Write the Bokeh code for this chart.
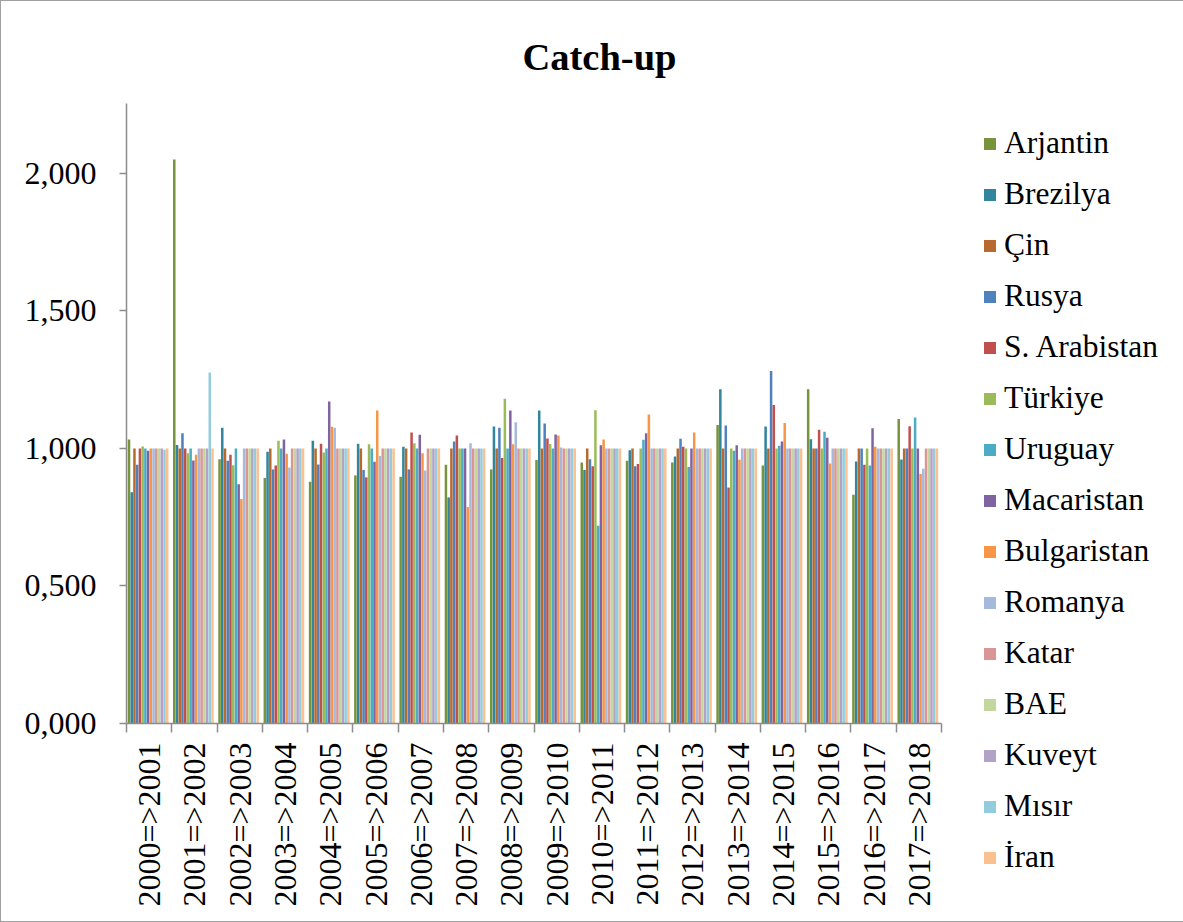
import numpy as np
from bokeh.plotting import figure
from bokeh.models import ColumnDataSource, FixedTicker, Legend, LegendItem, Range1d
from bokeh.transform import dodge
from bokeh.embed import file_html
from bokeh.resources import INLINE

periods = ["2000=>2001", "2001=>2002", "2002=>2003", "2003=>2004", "2004=>2005",
           "2005=>2006", "2006=>2007", "2007=>2008", "2008=>2009", "2009=>2010",
           "2010=>2011", "2011=>2012", "2012=>2013", "2013=>2014", "2014=>2015",
           "2015=>2016", "2016=>2017", "2017=>2018"]

countries = ["Arjantin", "Brezilya", "Çin", "Rusya", "S. Arabistan", "Türkiye",
             "Uruguay", "Macaristan", "Bulgaristan", "Romanya", "Katar", "BAE",
             "Kuveyt", "Mısır", "İran"]

arjantin = [1.033, 2.051, 0.961, 0.893, 0.879, 0.902, 0.897, 0.941, 0.924, 0.958, 0.949, 0.955, 0.949, 1.085, 0.938, 1.215, 0.832, 1.107]
brezilya = [0.841, 1.013, 1.075, 0.988, 1.028, 1.017, 1.006, 0.822, 1.080, 1.138, 0.922, 0.994, 0.971, 1.215, 1.080, 1.034, 0.953, 0.960]
cin = [1.000, 1.000, 1.000, 1.000, 1.000, 1.000, 1.000, 1.000, 1.000, 1.000, 1.000, 1.000, 1.000, 1.000, 1.000, 1.000, 1.000, 1.000]
rusya = [0.941, 1.055, 0.955, 0.924, 0.942, 0.922, 0.924, 1.025, 1.075, 1.091, 0.961, 0.935, 1.035, 1.084, 1.282, 1.000, 1.000, 1.000]
s_arabistan = [1.000, 1.000, 0.977, 0.938, 1.017, 0.895, 1.058, 1.047, 0.965, 1.036, 0.935, 0.944, 1.006, 0.858, 1.158, 1.068, 0.941, 1.081]
turkiye = [1.007, 0.983, 0.939, 1.028, 0.985, 1.015, 1.019, 1.000, 1.181, 1.016, 1.139, 1.000, 1.000, 1.000, 1.000, 1.000, 1.000, 1.000]
uruguay = [1.000, 1.000, 1.000, 1.000, 1.000, 1.000, 1.000, 1.000, 1.000, 1.000, 0.719, 1.032, 0.933, 0.992, 1.010, 1.061, 0.938, 1.113]
macaristan = [0.992, 0.956, 0.870, 1.033, 1.171, 0.952, 1.050, 1.000, 1.138, 1.051, 1.012, 1.055, 1.000, 1.012, 1.025, 1.039, 1.074, 1.000]
bulgaristan = [1.000, 0.977, 0.816, 0.981, 1.079, 1.138, 0.983, 0.787, 1.015, 1.047, 1.033, 1.124, 1.058, 0.959, 1.093, 0.945, 1.006, 0.907]
romanya = [1.000, 1.000, 1.000, 0.931, 1.075, 0.973, 0.920, 1.019, 1.095, 1.004, 1.000, 1.000, 1.000, 1.000, 1.000, 1.000, 1.000, 0.926]
katar = [1.000, 1.000, 1.000, 1.000, 1.000, 1.000, 1.000, 1.000, 1.000, 1.000, 1.000, 1.000, 1.000, 1.000, 1.000, 1.000, 1.000, 1.000]
bae = [1.000, 1.000, 1.000, 1.000, 1.000, 1.000, 1.000, 1.000, 1.000, 1.000, 1.000, 1.000, 1.000, 1.000, 1.000, 1.000, 1.000, 1.000]
kuveyt = [1.000, 1.000, 1.000, 1.000, 1.000, 1.000, 1.000, 1.000, 1.000, 1.000, 1.000, 1.000, 1.000, 1.000, 1.000, 1.000, 1.000, 1.000]
misir = [0.995, 1.276, 1.000, 1.000, 1.000, 1.000, 1.000, 1.000, 1.000, 1.000, 1.000, 1.000, 1.000, 1.000, 1.000, 1.000, 1.000, 1.000]
iran = [1.000, 1.000, 1.000, 1.000, 1.000, 1.000, 1.000, 1.000, 1.000, 1.000, 1.000, 1.000, 1.000, 1.000, 1.000, 1.000, 1.000, 1.000]

series = [arjantin, brezilya, cin, rusya, s_arabistan, turkiye, uruguay, macaristan,
          bulgaristan, romanya, katar, bae, kuveyt, misir, iran]

colors = ["#77933C", "#31859C", "#B7692E", "#4F81BD", "#C0504D", "#9BBB59",
          "#4BACC6", "#8064A2", "#F79646", "#A5B9DC", "#D99694", "#C3D69B",
          "#B3A2C7", "#93CDDD", "#FAC090"]

y_ticks = [0.0, 0.5, 1.0, 1.5, 2.0]
y_tick_labels = ["0,000", "0,500", "1,000", "1,500", "2,000"]

FONT = "Liberation Serif"

data = {"x": list(range(len(periods)))}
for i, s in enumerate(series):
    data["s%d" % i] = s
source = ColumnDataSource(data)

p = figure(frame_width=815, frame_height=620, x_range=Range1d(0, len(periods)), y_range=Range1d(0, 2.2545),
           output_backend="svg", toolbar_location=None,
           min_border_left=125, min_border_right=230, min_border_top=102, min_border_bottom=198)

p.title.text = "Catch-up"
p.title.text_font = FONT
p.title.text_font_size = "38.5px"
p.title.text_font_style = "bold"
p.title.align = "left"
p.title.offset = 396
p.title.standoff = 52
p.title.text_color = "black"

n = len(countries)
pitch = 0.0603
renderers = []
for i in range(n):
    off = 0.025 + pitch * (i + 0.5)
    r = p.vbar(x=dodge("x", off, range=p.x_range), top="s%d" % i, width=pitch * 0.92,
               source=source, fill_color=colors[i], line_color=None)
    renderers.append(r)

p.xgrid.visible = False
p.ygrid.visible = False
p.outline_line_color = None

# y axis
p.yaxis.ticker = FixedTicker(ticks=y_ticks)
p.yaxis.major_label_overrides = {t: l for t, l in zip(y_ticks, y_tick_labels)}
p.yaxis.minor_tick_line_color = None
p.yaxis.major_tick_in = 0
p.yaxis.major_tick_out = 7
p.yaxis.major_label_standoff = 23
p.yaxis.major_label_text_font = FONT
p.yaxis.major_label_text_font_size = "32px"
p.yaxis.major_label_text_color = "black"
p.yaxis.axis_line_color = "#8c8c8c"
p.yaxis.axis_line_width = 1.5
p.yaxis.major_tick_line_color = "#8c8c8c"
p.yaxis.major_tick_line_width = 1.5

# x axis
centers = [i + 0.5 for i in range(len(periods))]
p.xaxis.ticker = FixedTicker(ticks=centers, minor_ticks=list(range(len(periods) + 1)))
p.xaxis.major_label_overrides = {c: l for c, l in zip(centers, periods)}
p.xaxis.major_label_orientation = np.pi / 2
p.xaxis.major_tick_line_color = None
p.xaxis.major_tick_in = 0
p.xaxis.major_tick_out = 0
p.xaxis.minor_tick_in = 0
p.xaxis.minor_tick_out = 9
p.xaxis.minor_tick_line_color = "#8c8c8c"
p.xaxis.minor_tick_line_width = 1.5
p.xaxis.major_label_standoff = 10
p.xaxis.major_label_text_font = FONT
p.xaxis.major_label_text_font_size = "32px"
p.xaxis.major_label_text_color = "black"
p.xaxis.axis_line_color = "#8c8c8c"
p.xaxis.axis_line_width = 1.5

items = [LegendItem(label=c, renderers=[r]) for c, r in zip(countries, renderers)]
legend = Legend(items=items, location=(41, -152), orientation="vertical", ncols=1,
                glyph_width=15, glyph_height=15, label_standoff=7,
                label_height=36, spacing=15, padding=0, margin=0,
                border_line_color=None, background_fill_alpha=0,
                label_text_font=FONT, label_text_font_size="31.5px",
                label_text_color="black")
p.add_layout(legend, "right")

p.styles = {"border": "1.5px solid #a0a0a0", "box-sizing": "border-box"}

open("out.html", "w").write(file_html(p, INLINE))
